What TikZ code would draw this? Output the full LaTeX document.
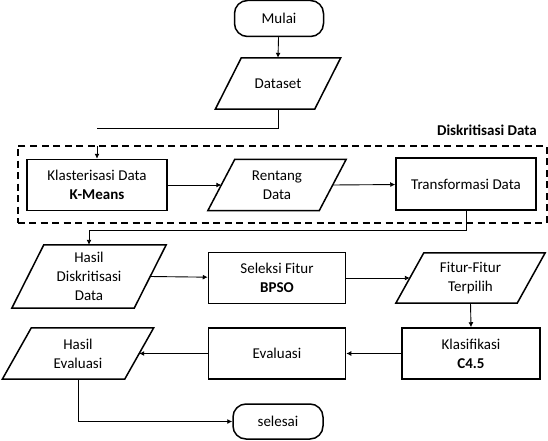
\documentclass[tikz,border=0pt]{standalone}
\usepackage{fontspec}
\setmainfont{Carlito}
\usetikzlibrary{shapes.geometric,arrows.meta}
\tikzset{
  txt/.style={font=\fontsize{15}{19}\selectfont, align=center, inner sep=0pt},
  shp/.style={txt, draw, line width=1.5pt},
  procbox/.style={shp, rectangle, minimum width=#1, minimum height=51},
  termbox/.style={shp, rectangle, rounded corners=13pt, minimum width=89, minimum height=36},
  iobox/.style={txt, rectangle, minimum width=#1, minimum height=51},
  ioline/.style={line width=1.5pt, line join=miter},
  conn/.style={line width=0.9pt},
  arr/.style={conn, -{Latex[length=5pt,width=5pt]}},
  grpbox/.style={draw, line width=2pt, dash pattern=on 7pt off 4.5pt, rectangle, inner sep=0pt}
}
% parallelogram around a named node: #1 name, #2 half of the slant offset
\newcommand\drawio[2]{%
  \draw[ioline] ([xshift=-#2]#1.south west) -- ([xshift=-#2]#1.south east)
    -- ([xshift=#2]#1.north east) -- ([xshift=#2]#1.north west) -- cycle;}
\begin{document}
\begin{tikzpicture}[x=1pt,y=-1pt]
\useasboundingbox (0,0) rectangle (548,441);
% group
\node[grpbox, minimum width=529, minimum height=77] (grp) at (282,184) {};
\node[txt, font=\fontsize{15}{19}\selectfont\bfseries, anchor=east] (grplbl) at (537,130) {Diskritisasi Data};
% nodes
\node[termbox] (mulai) at (279,18.5) {Mulai};
\node[iobox=99] (dataset) at (278,83.5) {Dataset};
\node[procbox=140] (klas) at (97,185) {Klasterisasi Data\\\textbf{K-Means}};
\node[iobox=111] (rent) at (277,185) {Rentang\\Data};
\node[procbox=140, minimum height=52] (trans) at (466,184) {Transformasi Data};
\node[iobox=122, minimum height=63] (hasil1) at (89,276.5) {Hasil\\Diskritisasi\\Data};
\node[procbox=137] (sel) at (277,278) {Seleksi Fitur\\\textbf{BPSO}};
\node[iobox=121, minimum height=50] (fitur) at (470.5,278) {Fitur-Fitur\\Terpilih};
\node[procbox=138] (klasif) at (471,353.5) {Klasifikasi\\\textbf{C4.5}};
\node[procbox=137] (eval) at (277,353.5) {Evaluasi};
\node[iobox=122] (hasil2) at (78,353.5) {Hasil\\Evaluasi};
\node[termbox, minimum width=90, minimum height=35] (selesai) at (278,421.5) {selesai};
% parallelogram outlines
\drawio{dataset}{13pt}
\drawio{rent}{13.5pt}
\drawio{hasil1}{16pt}
\drawio{fitur}{14pt}
\drawio{hasil2}{14.5pt}
% helper coordinates
\coordinate (c1) at (97,128);
\coordinate (c2) at (97,146);
\coordinate (c3) at (466,230);
% connectors
\draw[arr] (mulai) -- (dataset.north);
\draw[conn] (dataset.south) |- (c1);
\draw[arr] (c2) -- (klas.north);
\draw[arr] (klas) -- (rent.west);
\draw[arr] (rent.east) -- (trans);
\draw[arr] (trans.south) -- (c3) -| (hasil1.north);
\draw[arr] (hasil1.east) -- (sel);
\draw[arr] (sel) -- (fitur.west);
\draw[arr] (fitur.south) -- (klasif.north);
\draw[arr] (klasif) -- (eval);
\draw[arr] (eval) -- (hasil2.east);
\draw[arr] (hasil2.south) |- (selesai.west);
\end{tikzpicture}
\end{document}
